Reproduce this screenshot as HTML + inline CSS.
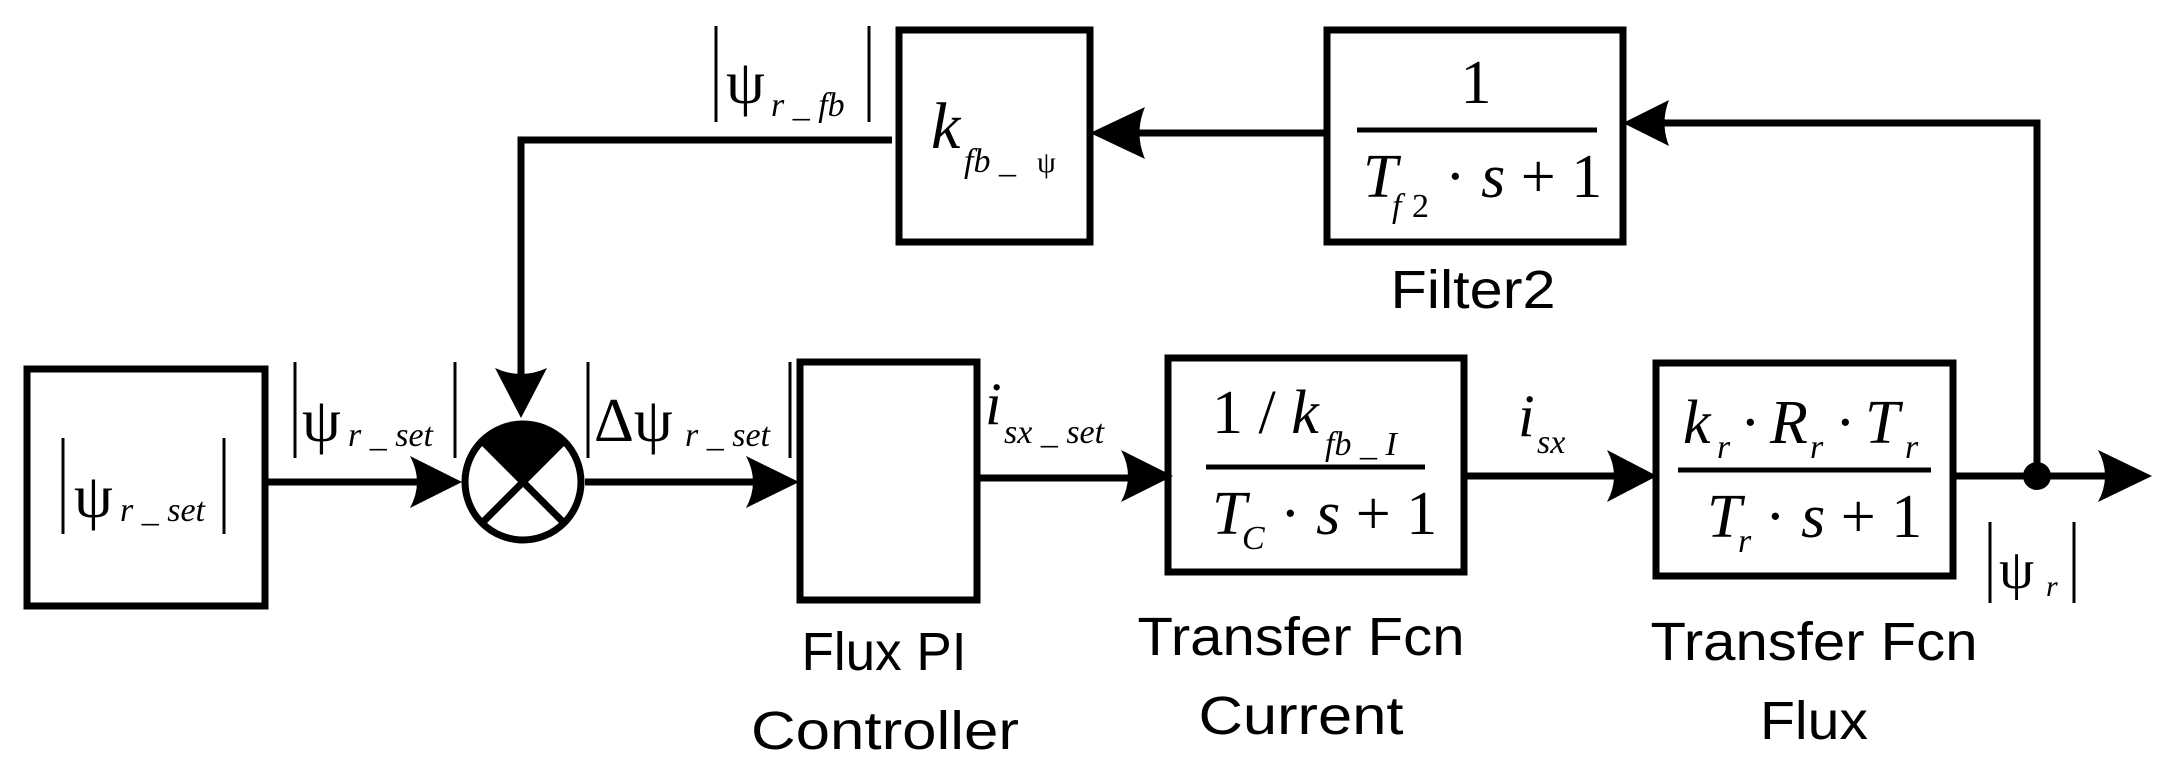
<!DOCTYPE html>
<html><head><meta charset="utf-8"><style>
html,body{margin:0;padding:0;background:#fff;}
svg{display:block}
.m{font-family:"Liberation Serif",serif;font-style:italic;fill:#000}
.n{font-family:"Liberation Serif",serif;fill:#000}
.s{font-family:"Liberation Sans",sans-serif;fill:#000;font-size:54px}
</style></head><body>
<svg width="2161" height="772" viewBox="0 0 2161 772" xmlns="http://www.w3.org/2000/svg">
<g fill="none" stroke="#000" stroke-width="7">
<!-- boxes -->
<rect x="27" y="369" width="238" height="237"/>
<rect x="800" y="362" width="177" height="238"/>
<rect x="1168" y="358" width="296" height="214"/>
<rect x="1656" y="363" width="297" height="213"/>
<rect x="899" y="30" width="191" height="212"/>
<rect x="1327" y="30" width="296" height="212"/>
<!-- main lines -->
<line x1="265" y1="482" x2="440" y2="482"/>
<line x1="585" y1="482" x2="780" y2="482"/>
<line x1="977" y1="478" x2="1150" y2="478"/>
<line x1="1464" y1="476" x2="1635" y2="476"/>
<line x1="1953" y1="476" x2="2120" y2="476"/>
<!-- feedback -->
<polyline points="2037,476 2037,123 1650,123"/>
<line x1="1327" y1="133" x2="1120" y2="133"/>
<polyline points="892,140 521,140 521,390"/>
<!-- summing circle -->
<circle cx="523" cy="482" r="58"/>
<line x1="482" y1="441" x2="564" y2="523"/>
<line x1="564" y1="441" x2="482" y2="523"/>
<!-- fraction lines -->
<line x1="1357" y1="130" x2="1597" y2="130" stroke-width="5"/>
<line x1="1206" y1="467" x2="1425" y2="467" stroke-width="5"/>
<line x1="1678" y1="470" x2="1931" y2="470" stroke-width="5"/>
<!-- bars -->
<g stroke-width="3">
<line x1="63" y1="438" x2="63" y2="534"/><line x1="224" y1="438" x2="224" y2="534"/>
<line x1="295" y1="362" x2="295" y2="458"/><line x1="455" y1="362" x2="455" y2="458"/>
<line x1="588" y1="362" x2="588" y2="458"/><line x1="790" y1="362" x2="790" y2="458"/>
<line x1="716" y1="26" x2="716" y2="122"/><line x1="869" y1="26" x2="869" y2="122"/>
<line x1="1990" y1="522" x2="1990" y2="603"/><line x1="2074" y1="522" x2="2074" y2="603"/>
</g>
</g>
<!-- filled wedge in circle -->
<path d="M523,482 L482,441 A58,58 0 0 1 564,441 Z" fill="#000"/>
<!-- arrowheads -->
<g fill="#000">
<path d="M462,482 L410,456 Q424,482 410,508 Z"/>
<path d="M799,482 L746,456 Q760,482 746,508 Z"/>
<path d="M1173,476 L1121,450 Q1135,476 1121,502 Z"/>
<path d="M1657,476 L1607,450 Q1621,476 1607,502 Z"/>
<path d="M2152,476 L2098,450 Q2112,476 2098,502 Z"/>
<path d="M1623,123 L1669,100 Q1660,123 1669,146 Z"/>
<path d="M1090,133 L1145,107 Q1134,133 1145,159 Z"/>
<path d="M521,418 L495,368 Q521,380 547,368 Z"/>
<circle cx="2037" cy="476" r="14"/>
</g>
<!-- math labels -->
<text class="n" x="74" y="517" font-size="62">ψ</text>
<text class="m" x="120" y="521" font-size="34">r _ set</text>
<text class="n" x="302" y="441" font-size="62">ψ</text>
<text class="m" x="348" y="446" font-size="34">r _ set</text>
<text class="n" x="594" y="441" font-size="62">Δψ</text>
<text class="m" x="685" y="446" font-size="34">r _ set</text>
<text class="n" x="726" y="103" font-size="62">ψ</text>
<text class="m" x="771" y="116" font-size="34">r _ fb</text>
<text class="m" x="931" y="148" font-size="66">k</text>
<text class="m" x="964" y="172" font-size="34">fb _ </text><text class="n" x="1037" y="172" font-size="30">ψ</text>
<text class="m" x="985" y="424" font-size="60">i</text>
<text class="m" x="1004" y="443" font-size="34">sx _ set</text>
<text class="n" x="1476" y="103" font-size="62" text-anchor="middle">1</text>
<text class="m" x="1363" y="197" font-size="62">T</text>
<text class="m" x="1392" y="217" font-size="34">f</text><text class="n" x="1412" y="217" font-size="34">2</text>
<text class="n" x="1445" y="197" font-size="62">· <tspan class="m">s</tspan> + 1</text>
<text class="n" x="1212" y="433" font-size="62">1 / <tspan class="m">k</tspan></text>
<text class="m" x="1325" y="455" font-size="34">fb _ I</text>
<text class="m" x="1212" y="534" font-size="62">T</text>
<text class="m" x="1242" y="549" font-size="34">C</text>
<text class="n" x="1280" y="534" font-size="62">· <tspan class="m">s</tspan> + 1</text>
<text class="m" x="1518" y="436" font-size="60">i</text>
<text class="m" x="1537" y="453" font-size="34">sx</text>
<text class="m" x="1683" y="443" font-size="62">k</text><text class="m" x="1717" y="458" font-size="34">r</text>
<text class="n" x="1740" y="443" font-size="62">·</text>
<text class="m" x="1770" y="443" font-size="62">R</text><text class="m" x="1810" y="458" font-size="34">r</text>
<text class="n" x="1835" y="443" font-size="62">·</text>
<text class="m" x="1865" y="443" font-size="62">T</text><text class="m" x="1905" y="458" font-size="34">r</text>
<text class="m" x="1707" y="537" font-size="62">T</text><text class="m" x="1738" y="552" font-size="34">r</text>
<text class="n" x="1765" y="537" font-size="62">· <tspan class="m">s</tspan> + 1</text>
<text class="n" x="1999" y="588" font-size="56">ψ</text>
<text class="m" x="2046" y="596" font-size="30">r</text>
<!-- sans labels -->
<text class="s" x="1473" y="308" text-anchor="middle" textLength="165" lengthAdjust="spacingAndGlyphs">Filter2</text>
<text class="s" x="884" y="670" text-anchor="middle" textLength="165" lengthAdjust="spacingAndGlyphs">Flux PI</text>
<text class="s" x="885" y="749" text-anchor="middle" textLength="268" lengthAdjust="spacingAndGlyphs">Controller</text>
<text class="s" x="1301" y="655" text-anchor="middle" textLength="327" lengthAdjust="spacingAndGlyphs">Transfer Fcn</text>
<text class="s" x="1301" y="734" text-anchor="middle" textLength="205" lengthAdjust="spacingAndGlyphs">Current</text>
<text class="s" x="1814" y="660" text-anchor="middle" textLength="327" lengthAdjust="spacingAndGlyphs">Transfer Fcn</text>
<text class="s" x="1814" y="739" text-anchor="middle" textLength="108" lengthAdjust="spacingAndGlyphs">Flux</text>
</svg>
</body></html>
